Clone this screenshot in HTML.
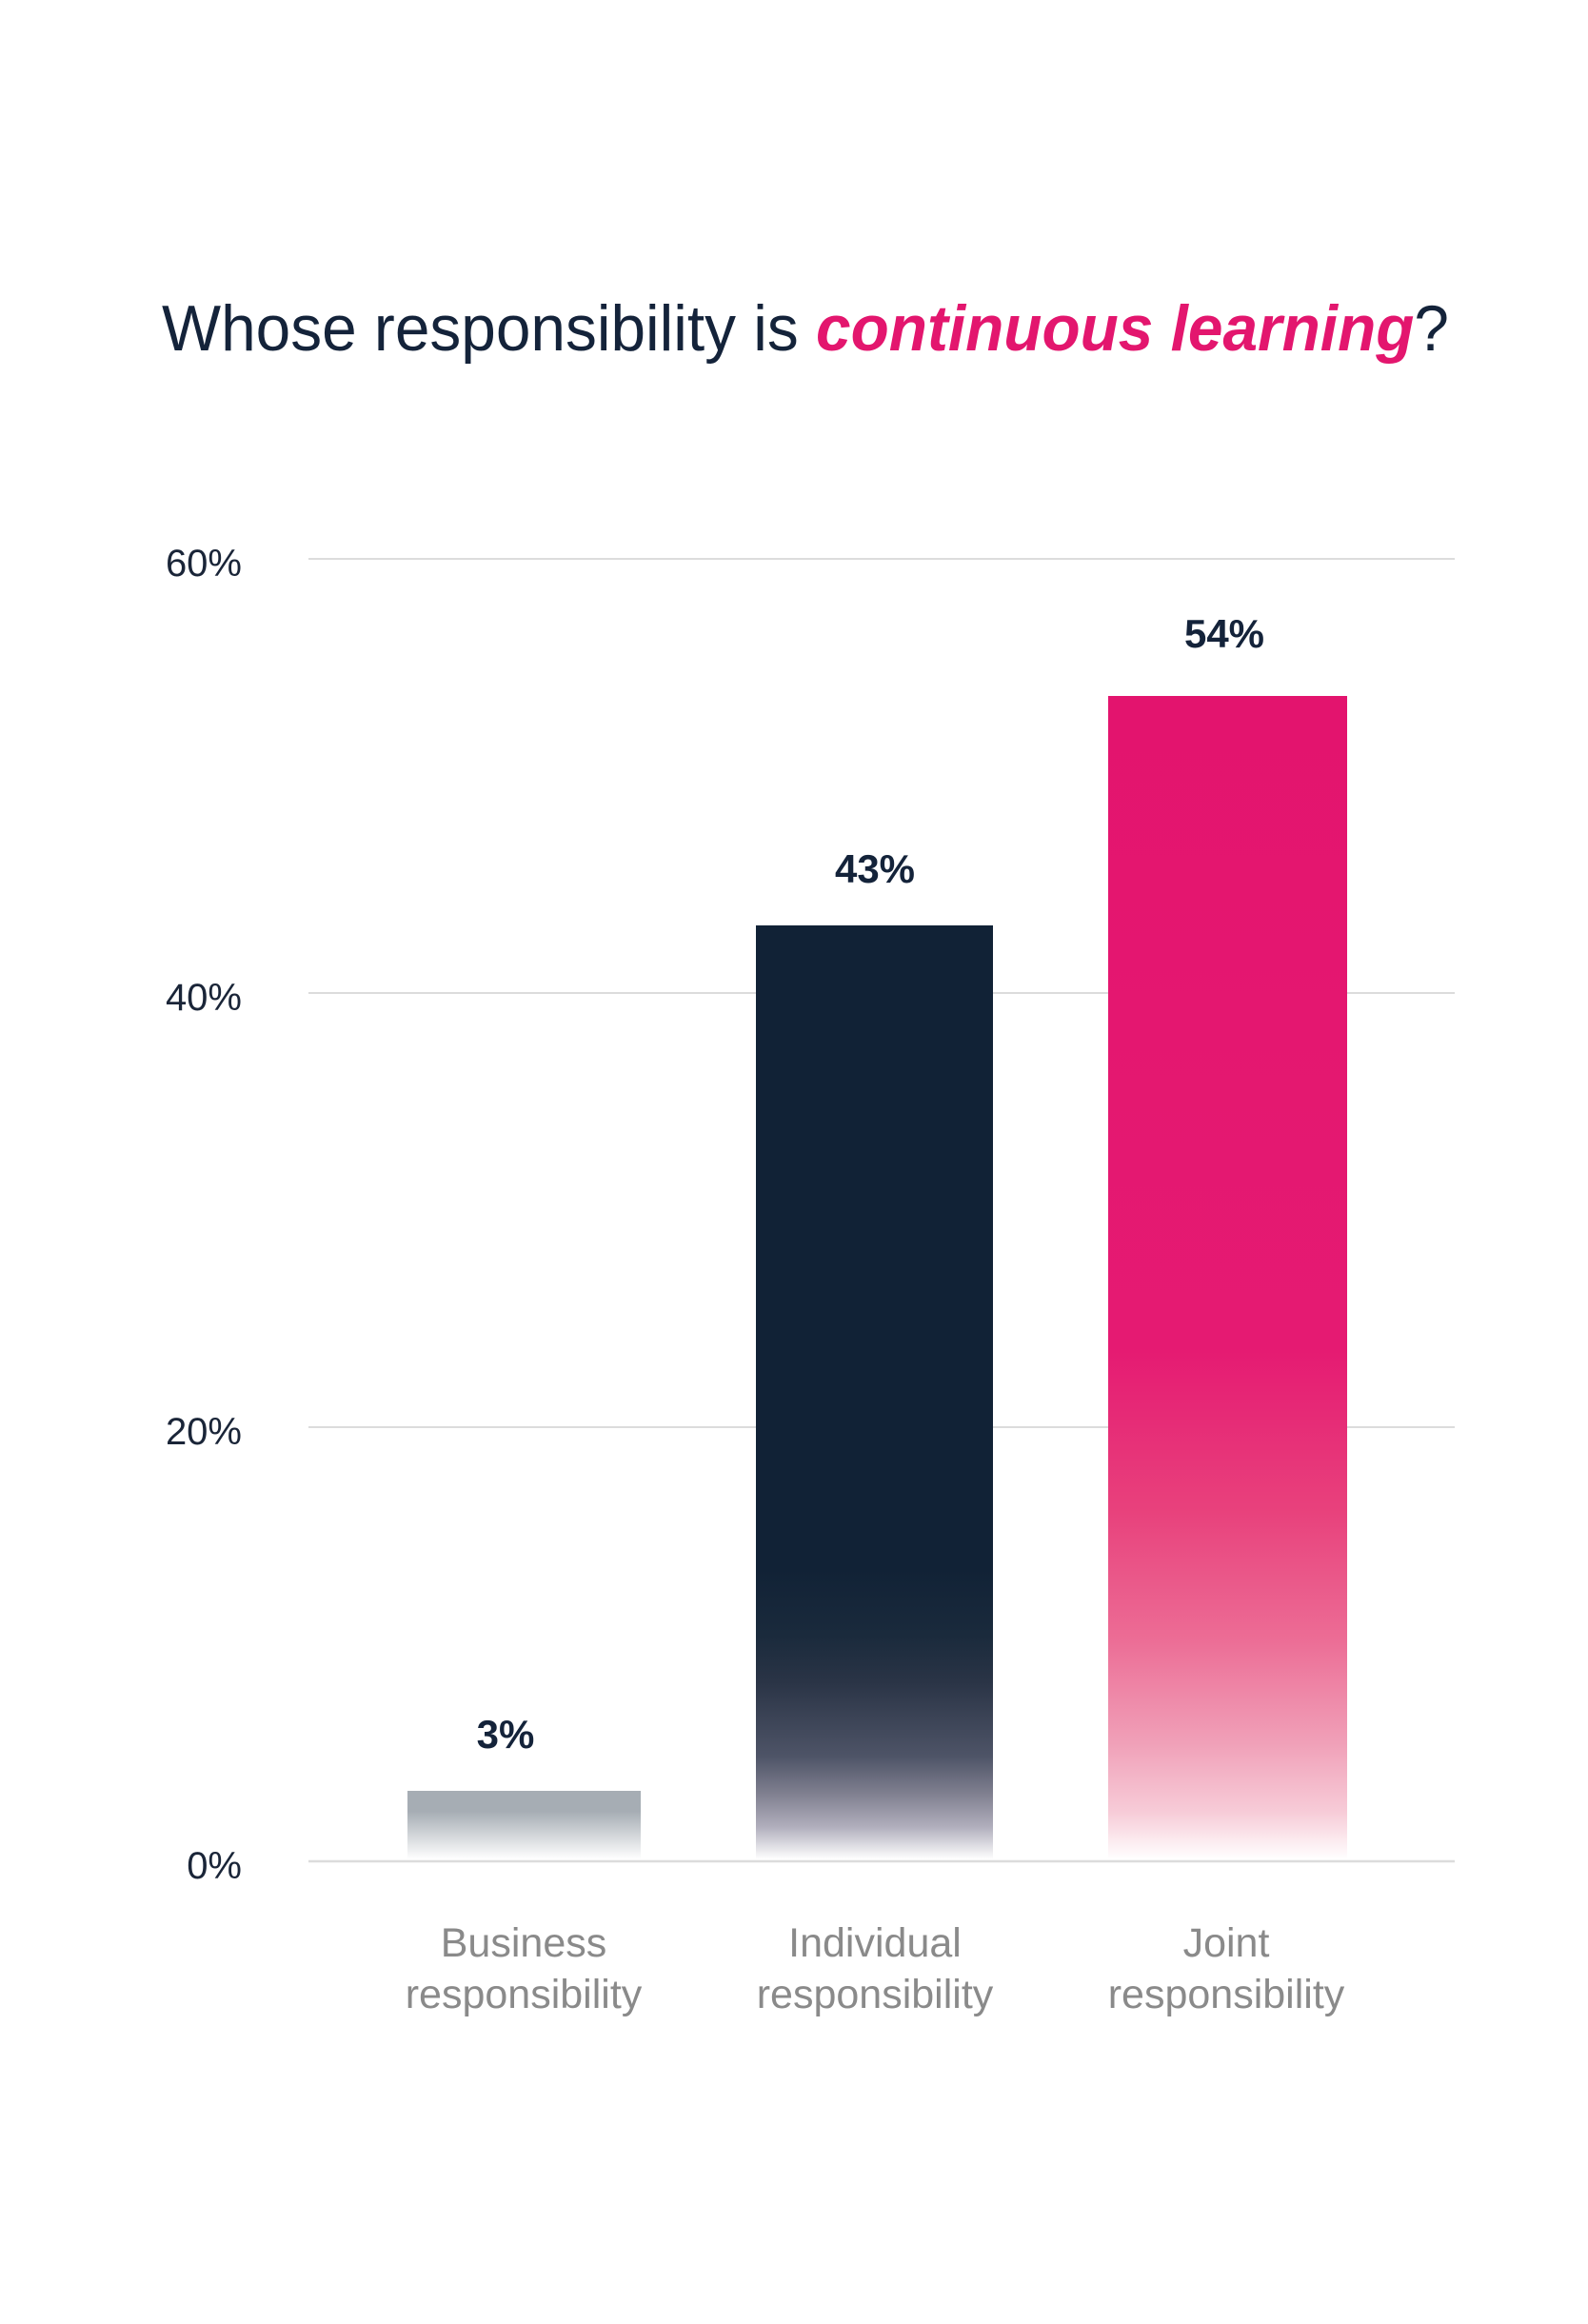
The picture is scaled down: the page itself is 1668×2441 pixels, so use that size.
<!DOCTYPE html>
<html><head><meta charset="utf-8"><style>
html,body{margin:0;padding:0;background:#fff}
svg{display:block}
</style></head><body>
<svg width="1668" height="2441" viewBox="0 0 1668 2441" xmlns="http://www.w3.org/2000/svg">
<defs>
<linearGradient id="gb" x1="0" y1="1881" x2="0" y2="1953" gradientUnits="userSpaceOnUse">
<stop offset="0" stop-color="#a6adb4"/><stop offset="0.3" stop-color="#a6adb4"/><stop offset="1" stop-color="#ffffff"/></linearGradient>
<linearGradient id="gi" x1="0" y1="972" x2="0" y2="1953" gradientUnits="userSpaceOnUse">
<stop offset="0" stop-color="#112236"/>
<stop offset="0.69" stop-color="#112236"/>
<stop offset="0.76" stop-color="#1a2a3c"/>
<stop offset="0.81" stop-color="#2a3446"/>
<stop offset="0.89" stop-color="#4e5467"/>
<stop offset="0.93" stop-color="#808090"/>
<stop offset="0.965" stop-color="#b0aebc"/>
<stop offset="1" stop-color="#ffffff"/></linearGradient>
<linearGradient id="gj" x1="0" y1="731" x2="0" y2="1953" gradientUnits="userSpaceOnUse">
<stop offset="0" stop-color="#e3146e"/>
<stop offset="0.56" stop-color="#e51a72"/>
<stop offset="0.70" stop-color="#e8417c"/>
<stop offset="0.81" stop-color="#ec6c95"/>
<stop offset="0.90" stop-color="#f0a0b8"/>
<stop offset="0.96" stop-color="#f7ccd8"/>
<stop offset="1" stop-color="#ffffff"/></linearGradient>
</defs>
<text x="170" y="368" font-family="Liberation Sans, sans-serif" font-size="68" fill="#14233a" textLength="1352" lengthAdjust="spacingAndGlyphs">Whose responsibility is <tspan fill="#e3166e" font-weight="bold" font-style="italic">continuous learning</tspan>?</text>
<g stroke="#dcdcdc" stroke-width="2">
<line x1="324" y1="587" x2="1528" y2="587"/>
<line x1="324" y1="1043" x2="1528" y2="1043"/>
<line x1="324" y1="1499" x2="1528" y2="1499"/>
</g>
<g font-family="Liberation Sans, sans-serif" font-size="40" fill="#1a2538" text-anchor="end">
<text x="254" y="605">60%</text>
<text x="254" y="1061">40%</text>
<text x="254" y="1517">20%</text>
<text x="254" y="1973">0%</text>
</g>
<rect x="428" y="1881" width="245" height="72" fill="url(#gb)"/>
<rect x="794" y="972" width="249" height="981" fill="url(#gi)"/>
<rect x="1164" y="731" width="251" height="1222" fill="url(#gj)"/>
<line x1="324" y1="1955" x2="1528" y2="1955" stroke="#dcdcdc" stroke-width="2.5"/>
<g font-family="Liberation Sans, sans-serif" font-size="42" font-weight="bold" fill="#14233a" text-anchor="middle">
<text x="531" y="1836">3%</text>
<text x="919" y="927">43%</text>
<text x="1286" y="680">54%</text>
</g>
<g font-family="Liberation Sans, sans-serif" font-size="43" fill="#8a8a8a" text-anchor="middle">
<text x="550" y="2055">Business</text>
<text x="550" y="2109">responsibility</text>
<text x="919" y="2055">Individual</text>
<text x="919" y="2109">responsibility</text>
<text x="1288" y="2055">Joint</text>
<text x="1288" y="2109">responsibility</text>
</g>
</svg>
</body></html>
